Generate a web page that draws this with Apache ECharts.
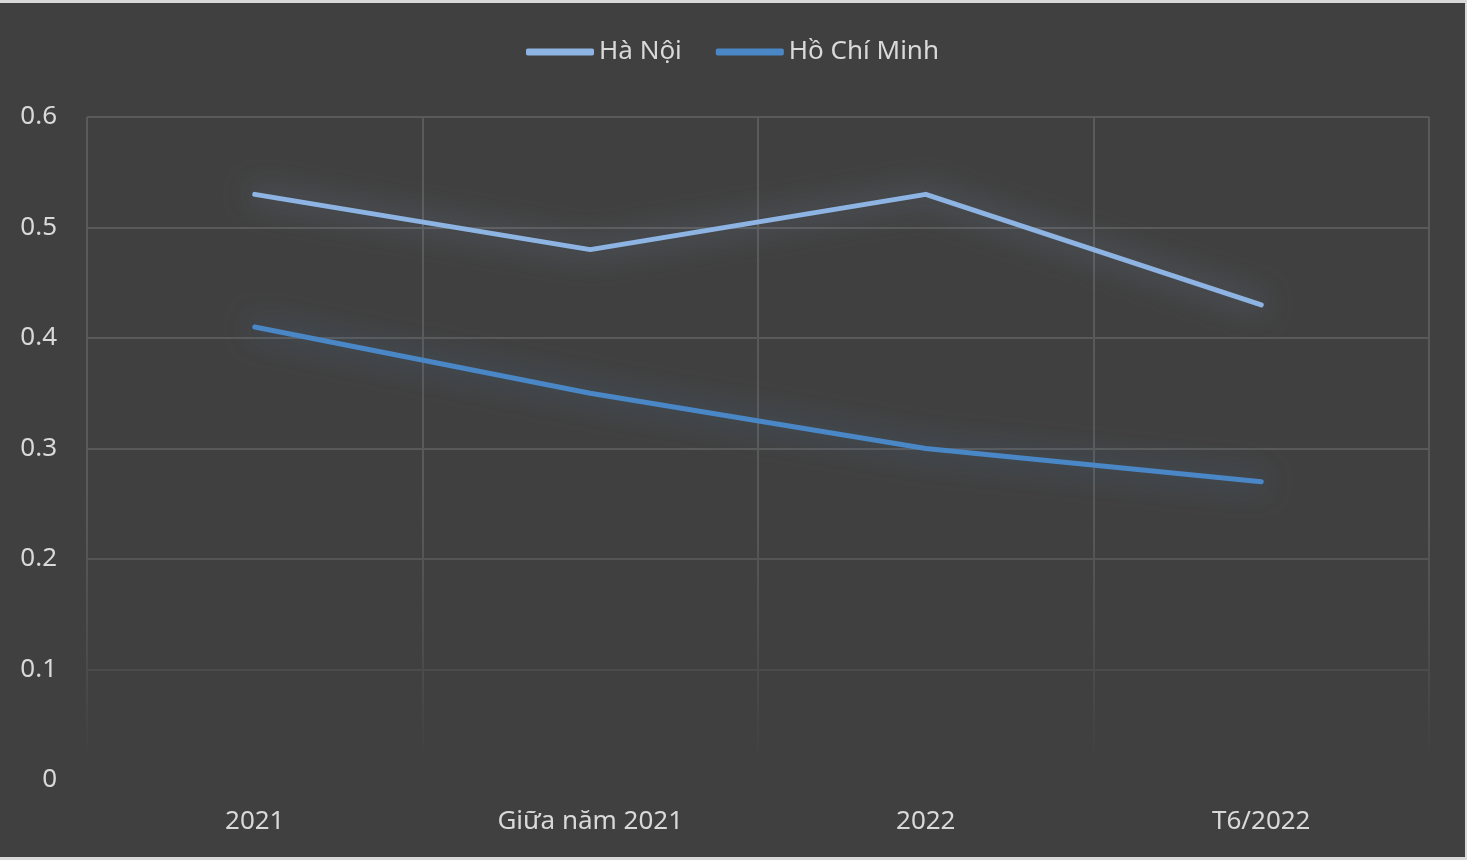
<!DOCTYPE html>
<html>
<head>
<meta charset="utf-8">
<script src="https://cdn.jsdelivr.net/npm/echarts@6/dist/echarts.min.js"></script>
<style>
html,body{margin:0;padding:0;background:#d9d9d9;width:1467px;height:860px;overflow:hidden;}
#chart{position:absolute;left:0;top:3px;width:1465px;height:854px;background:#404040;}
</style>
</head>
<body>
<div id="chart"></div>
<script>
const categories = ['2021', 'Giữa năm 2021', '2022', 'T6/2022'];
const haNoi = [0.53, 0.48, 0.53, 0.43];
const hoChiMinh = [0.41, 0.35, 0.30, 0.27];
const seriesNames = ['Hà Nội', 'Hồ Chí Minh'];

const FONT = '"Noto Sans", "Open Sans", sans-serif';
const gridFade = {
  type: 'linear', x: 0, y: 114, x2: 0, y2: 777, global: true,
  colorStops: [
    {offset: 0, color: '#5a5a5a'},
    {offset: 0.6, color: '#595959'},
    {offset: 0.85, color: '#4a4a4a'},
    {offset: 0.97, color: '#404040'},
    {offset: 1, color: '#404040'}
  ]
};

const chart = echarts.init(document.getElementById('chart'), null, {renderer: 'canvas'});
chart.setOption({
  backgroundColor: '#404040',
  animation: false,
  legend: {
    top: 31,
    left: 'center',
    icon: 'roundRect',
    itemWidth: 68,
    itemHeight: 7,
    itemGap: 34,
    textStyle: {color: '#d9d9d9', fontSize: 26, fontFamily: FONT},
    data: seriesNames
  },
  grid: {left: 87, right: 36, top: 114, bottom: 77},
  xAxis: {
    type: 'category',
    data: categories,
    boundaryGap: true,
    axisLine: {show: false},
    axisTick: {show: false},
    axisLabel: {color: '#d9d9d9', fontSize: 26, fontFamily: FONT, margin: 29},
    splitLine: {show: true, interval: 0, lineStyle: {color: gridFade, width: 2}}
  },
  yAxis: {
    type: 'value',
    min: 0, max: 0.6, interval: 0.1,
    axisLine: {show: false},
    axisTick: {show: false},
    axisLabel: {color: '#d9d9d9', fontSize: 26, fontFamily: FONT, margin: 30,
      formatter: v => v === 0 ? '0' : v.toFixed(1)},
    splitLine: {show: true, lineStyle: {color: gridFade, width: 2}}
  },
  series: [
    {
      name: seriesNames[0], type: 'line', data: haNoi,
      symbol: 'none',
      itemStyle: {color: '#8eb4e3'},
      lineStyle: {color: '#8eb4e3', width: 5, cap: 'round', join: 'round',
        shadowColor: 'rgba(142,180,227,0.55)', shadowBlur: 30}
    },
    {
      name: seriesNames[1], type: 'line', data: hoChiMinh,
      symbol: 'none',
      itemStyle: {color: '#4a87c7'},
      lineStyle: {color: '#4a87c7', width: 5, cap: 'round', join: 'round',
        shadowColor: 'rgba(74,135,199,0.6)', shadowBlur: 30}
    }
  ]
});
</script>
</body>
</html>
